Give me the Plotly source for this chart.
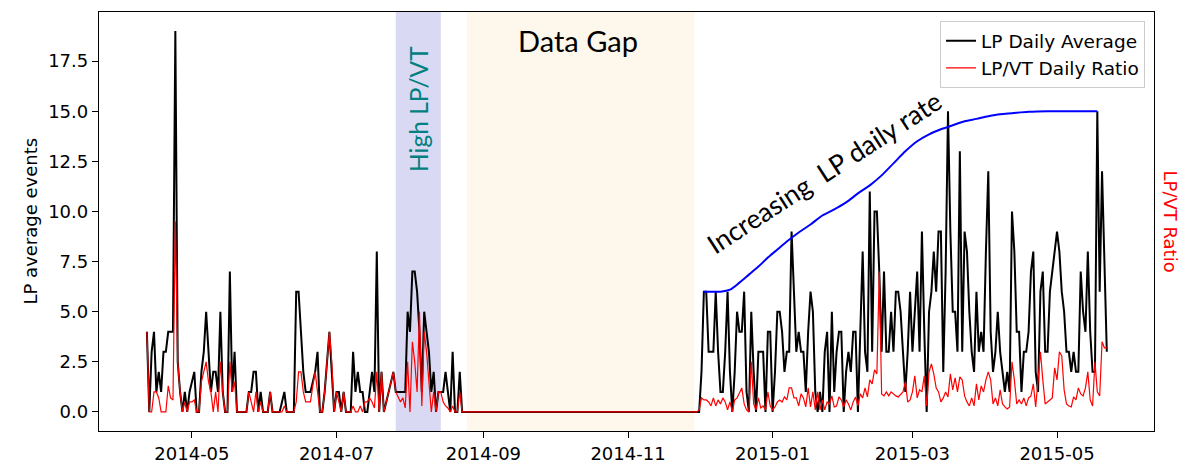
import pandas as pd
import plotly.graph_objects as go

# ---- daily series, first recording block (starts 2014-04-12) ----
block1_start = "2014-04-12"
lp_block1 = [
    4, 0, 3, 4, 1, 2, 1, 3, 3, 4, 4, 4, 19, 2.5, 1, 0, 1, 0, 1, 1.5,
    2, 0, 0, 2, 3, 5, 3, 1, 2, 2, 1, 5, 1, 0, 0, 7, 1, 3, 0, 0,
    0, 0, 0, 1, 1, 2, 2, 0, 1, 0, 0, 0, 1, 0, 0, 0, 0, 0.5, 1, 0,
    0, 0, 0, 6, 6, 4, 2, 1, 1, 1, 1.5, 2, 3, 0, 0, 1, 2.5, 4, 2, 0,
    1, 1, 0, 1, 0, 0, 0, 3, 1, 2, 1, 1, 0, 0, 1, 2, 1, 8, 0, 2,
    0, 0.5, 1, 1.5, 2, 1, 1, 1, 1, 1, 5, 4, 7, 7, 6, 4, 1, 5, 4, 3,
    1, 2, 0, 1, 1, 1, 2, 1, 0, 3, 0, 0, 2, 0, 0,
]
ratio_block1 = [
    4, 0, 0, 1, 1, 0.7, 0, 0, 0, 1.3, 0.7, 0.6, 9.5, 2.5, 1, 0, 0.5, 0, 0.5, 0.5,
    0.6, 0, 0, 1.5, 2, 2.5, 1.5, 1, 0, 1, 0, 2.5, 1, 0, 0, 2.5, 1, 1.5, 0, 0,
    0, 0, 0, 1, 0.5, 0, 1, 0, 0.5, 0, 0, 0, 1, 0, 0, 0, 0, 0, 0.3, 0,
    0, 0, 0, 0.5, 2, 2, 1, 0.5, 0.5, 0.5, 1.3, 2, 1, 0, 0, 1, 2.5, 4, 2.5, 0,
    1, 0.5, 0, 1, 0, 0, 0, 0.3, 0, 0, 0.3, 0, 0.5, 0.5, 0.7, 0.5, 0.2, 2, 0, 2,
    0, 0.5, 1, 1.5, 2, 1, 0.7, 0.5, 0.7, 0.2, 2.5, 0, 3.5, 2.5, 1, 5, 0.3, 4, 3, 1.5,
    0, 1, 0, 1, 1, 0.5, 0.3, 0.2, 0, 0.3, 0, 0, 1, 0, 0,
]

# ---- daily series, second recording block (starts 2014-11-30) ----
block2_start = "2014-11-30"
lp_block2 = [
    0, 0, 2, 6, 6, 3, 3, 3, 6, 3, 1, 1, 3, 6, 2, 0, 2, 5, 4, 4,
    6, 1, 0, 5, 2, 0, 3, 3, 3, 0, 4, 4, 0, 2, 5, 5, 4, 2, 3, 3,
    9, 6, 3, 4, 3, 3, 1, 4, 6, 5, 1, 0, 1, 0, 3, 4, 0, 5, 1, 3,
    4, 4, 0, 2, 3, 2, 4, 4, 0, 4, 8, 3, 2, 11, 3, 10, 10, 7, 3, 7,
    3, 3, 5, 3, 6, 6, 5, 3, 1, 3, 6, 3, 5, 7, 3, 9, 4, 0, 5, 6,
    8, 6, 9, 9, 2, 7, 15, 9, 5, 5, 3, 13, 3, 9, 8, 5, 3, 2, 6, 3,
    4, 3, 8, 12, 4, 2, 3, 5, 3, 2, 1, 2, 1, 10, 8, 4, 4, 1, 3, 3,
    4, 7, 8, 2, 1, 6, 7, 3, 3, 6, 7, 8, 9, 8, 6, 5, 3, 3, 2, 3,
    2, 2, 7, 5, 4, 8, 4, 2, 2, 15, 6, 12, 7, 3,
]
ratio_block2 = [
    0, 0.1, 0.7, 0.6, 0.6, 0.5, 0.3, 0.7, 0.3, 0.6, 0.4, 0.7, 0.5, 0.1, 0.5, 0, 0.6, 0.7, 1.0, 1.2,
    0.4, 0.1, 0, 2.5, 0.4, 0.1, 0.7, 0.2, 0.3, 0.1, 1.0, 0.3, 0.1, 0.25, 0.5, 0.6, 0.5, 0.75, 0.6, 1.2,
    1.2, 0.7, 0.7, 0.3, 0.9, 0.7, 0.25, 1.2, 0.25, 1.0, 0.1, 1.0, 0.1, 0.6, 0.1, 0.5, 0.4, 0.8, 0.25, 0.3,
    0.75, 0.6, 0.25, 0.6, 0.4, 0.1, 0.5, 0.75, 0.3, 0.9, 0.7, 1.2, 0.75, 1.6, 1.4, 2.1, 1.9, 7.0, 0.9, 0.8,
    1.0, 0.8, 1.0, 0.9, 0.8, 0.75, 0.9, 1.0, 1.5, 0.5, 0.6, 1.0, 1.8, 0.7, 1.1, 1.0, 1.8, 0.3, 2.0, 2.4,
    1.9, 1.2, 1.0, 0.5, 0.7, 1.0, 0.75, 1.9, 1.1, 1.7, 1.0, 1.75, 1.6, 0.8, 0.5, 0.3, 0.7, 0.3, 1.4, 0.6,
    1.3, 1.0, 1.6, 2.0, 1.6, 0.4, 0.7, 0.3, 1.1, 0.4, 0.25, 0.15, 0.25, 2.5, 1.6, 0.4, 0.6, 0.4, 0.7, 0.3,
    0.7, 0.8, 1.4, 0.25, 1.6, 3.0, 1.6, 0.4, 0.5, 0.6, 0.7, 2.2, 1.6, 3.0, 2.8, 1.1, 0.4, 0.3, 0.25, 0.75,
    0.6, 1.2, 0.9, 0.8, 1.2, 2.0, 0.6, 0.3, 2.5, 1.0, 0.8, 3.5, 3.2, 3.2,
]

# ---- hand-drawn trend of the LP daily rate ----
trend_dates = [
    "2014-12-03", "2014-12-10", "2014-12-14", "2014-12-18", "2014-12-22", "2014-12-26",
    "2014-12-30", "2015-01-03", "2015-01-07", "2015-01-12", "2015-01-17", "2015-01-22",
    "2015-01-27", "2015-02-01", "2015-02-06", "2015-02-11", "2015-02-16", "2015-02-21",
    "2015-02-26", "2015-03-03", "2015-03-08", "2015-03-13", "2015-03-18", "2015-03-23",
    "2015-03-28", "2015-04-02", "2015-04-07", "2015-04-12", "2015-04-19", "2015-04-27",
    "2015-05-07", "2015-05-18",
]
trend_values = [
    6.0, 6.0, 6.1, 6.45, 6.85, 7.25,
    7.7, 8.1, 8.5, 8.95, 9.35, 9.8,
    10.1, 10.45, 10.9, 11.3, 11.8, 12.4,
    13.0, 13.5, 13.85, 14.1, 14.3, 14.5,
    14.62, 14.75, 14.85, 14.9, 14.97, 15.0,
    15.0, 15.0,
]

# ---- shaded periods and axis ticks ----
high_ratio_period = ("2014-07-26", "2014-08-14")
data_gap_period = ("2014-08-25", "2014-11-29")
tick_months = ["2014-05-01", "2014-07-01", "2014-09-01", "2014-11-01",
               "2015-01-01", "2015-03-01", "2015-05-01"]
tick_labels = ["2014-05", "2014-07", "2014-09", "2014-11",
               "2015-01", "2015-03", "2015-05"]
y_ticks = [0.0, 2.5, 5.0, 7.5, 10.0, 12.5, 15.0, 17.5]

dates1 = pd.date_range(block1_start, periods=len(lp_block1), freq="D")
dates2 = pd.date_range(block2_start, periods=len(lp_block2), freq="D")
dates = list(dates1) + list(dates2)
lp_daily = lp_block1 + lp_block2
ratio_daily = ratio_block1 + ratio_block2

fig = go.Figure()

fig.add_vrect(x0=high_ratio_period[0], x1=high_ratio_period[1],
              fillcolor="rgb(217,217,243)", opacity=1, line_width=0, layer="below")
fig.add_vrect(x0=data_gap_period[0], x1=data_gap_period[1],
              fillcolor="rgb(254,247,236)", opacity=1, line_width=0, layer="below")

fig.add_trace(go.Scatter(x=dates, y=lp_daily, mode="lines", name="LP Daily Average",
                         line=dict(color="black", width=2)))
fig.add_trace(go.Scatter(x=dates, y=ratio_daily, mode="lines", name="LP/VT Daily Ratio",
                         line=dict(color="red", width=1.2)))
fig.add_trace(go.Scatter(x=trend_dates, y=trend_values, mode="lines", showlegend=False,
                         line=dict(color="blue", width=2, shape="spline", smoothing=0.8)))

axis_style = dict(showline=True, mirror=True, linecolor="black", linewidth=1.3,
                  ticks="outside", ticklen=6, tickwidth=1.3, tickcolor="black",
                  showgrid=False, zeroline=False, automargin=False,
                  tickfont=dict(family="DejaVu Sans", size=18, color="black"))

fig.update_xaxes(type="date", range=["2014-03-22 19:00", "2015-06-10 22:00"],
                 tickvals=tick_months, ticktext=tick_labels, **axis_style)
fig.update_yaxes(range=[-0.95, 19.95], tickvals=y_ticks,
                 ticktext=[f"{v:.1f}" for v in y_ticks], **axis_style)

fig.add_annotation(text="Data Gap", x="2014-10-11", y=18.55, xref="x", yref="y",
                   showarrow=False, font=dict(family="Lato", size=29, color="black"))
fig.add_annotation(text="High LP/VT", x="2014-08-04 16:00", y=15.1, xref="x", yref="y",
                   showarrow=False, textangle=-90,
                   font=dict(family="Lato", size=24.5, color="teal"))
fig.add_annotation(text="Increasing  LP daily rate", x="2015-01-23", y=11.95,
                   xref="x", yref="y", showarrow=False, textangle=-33,
                   font=dict(family="Lato", size=26.5, color="black"))
fig.add_annotation(text="LP average events", x=0, xshift=-69, y=0.5, xref="paper",
                   yref="paper", showarrow=False, textangle=-90,
                   xanchor="center", yanchor="middle",
                   font=dict(family="DejaVu Sans", size=18, color="black"))
fig.add_annotation(text="LP/VT Ratio", x=1, xshift=16, y=0.5, xref="paper",
                   yref="paper", showarrow=False, textangle=90,
                   xanchor="center", yanchor="middle",
                   font=dict(family="DejaVu Sans", size=18, color="red"))

fig.update_layout(
    template="none",
    width=1181, height=464,
    margin=dict(l=99, r=27, t=12, b=33, autoexpand=False),
    paper_bgcolor="white", plot_bgcolor="white",
    font=dict(family="DejaVu Sans", size=18, color="black"),
    legend=dict(x=0.9915, y=0.978, xanchor="right", yanchor="top",
                bgcolor="rgba(255,255,255,0.8)", bordercolor="#cccccc", borderwidth=1,
                font=dict(family="DejaVu Sans", size=18.5, color="black")),
)

fig.write_html("out.html")
